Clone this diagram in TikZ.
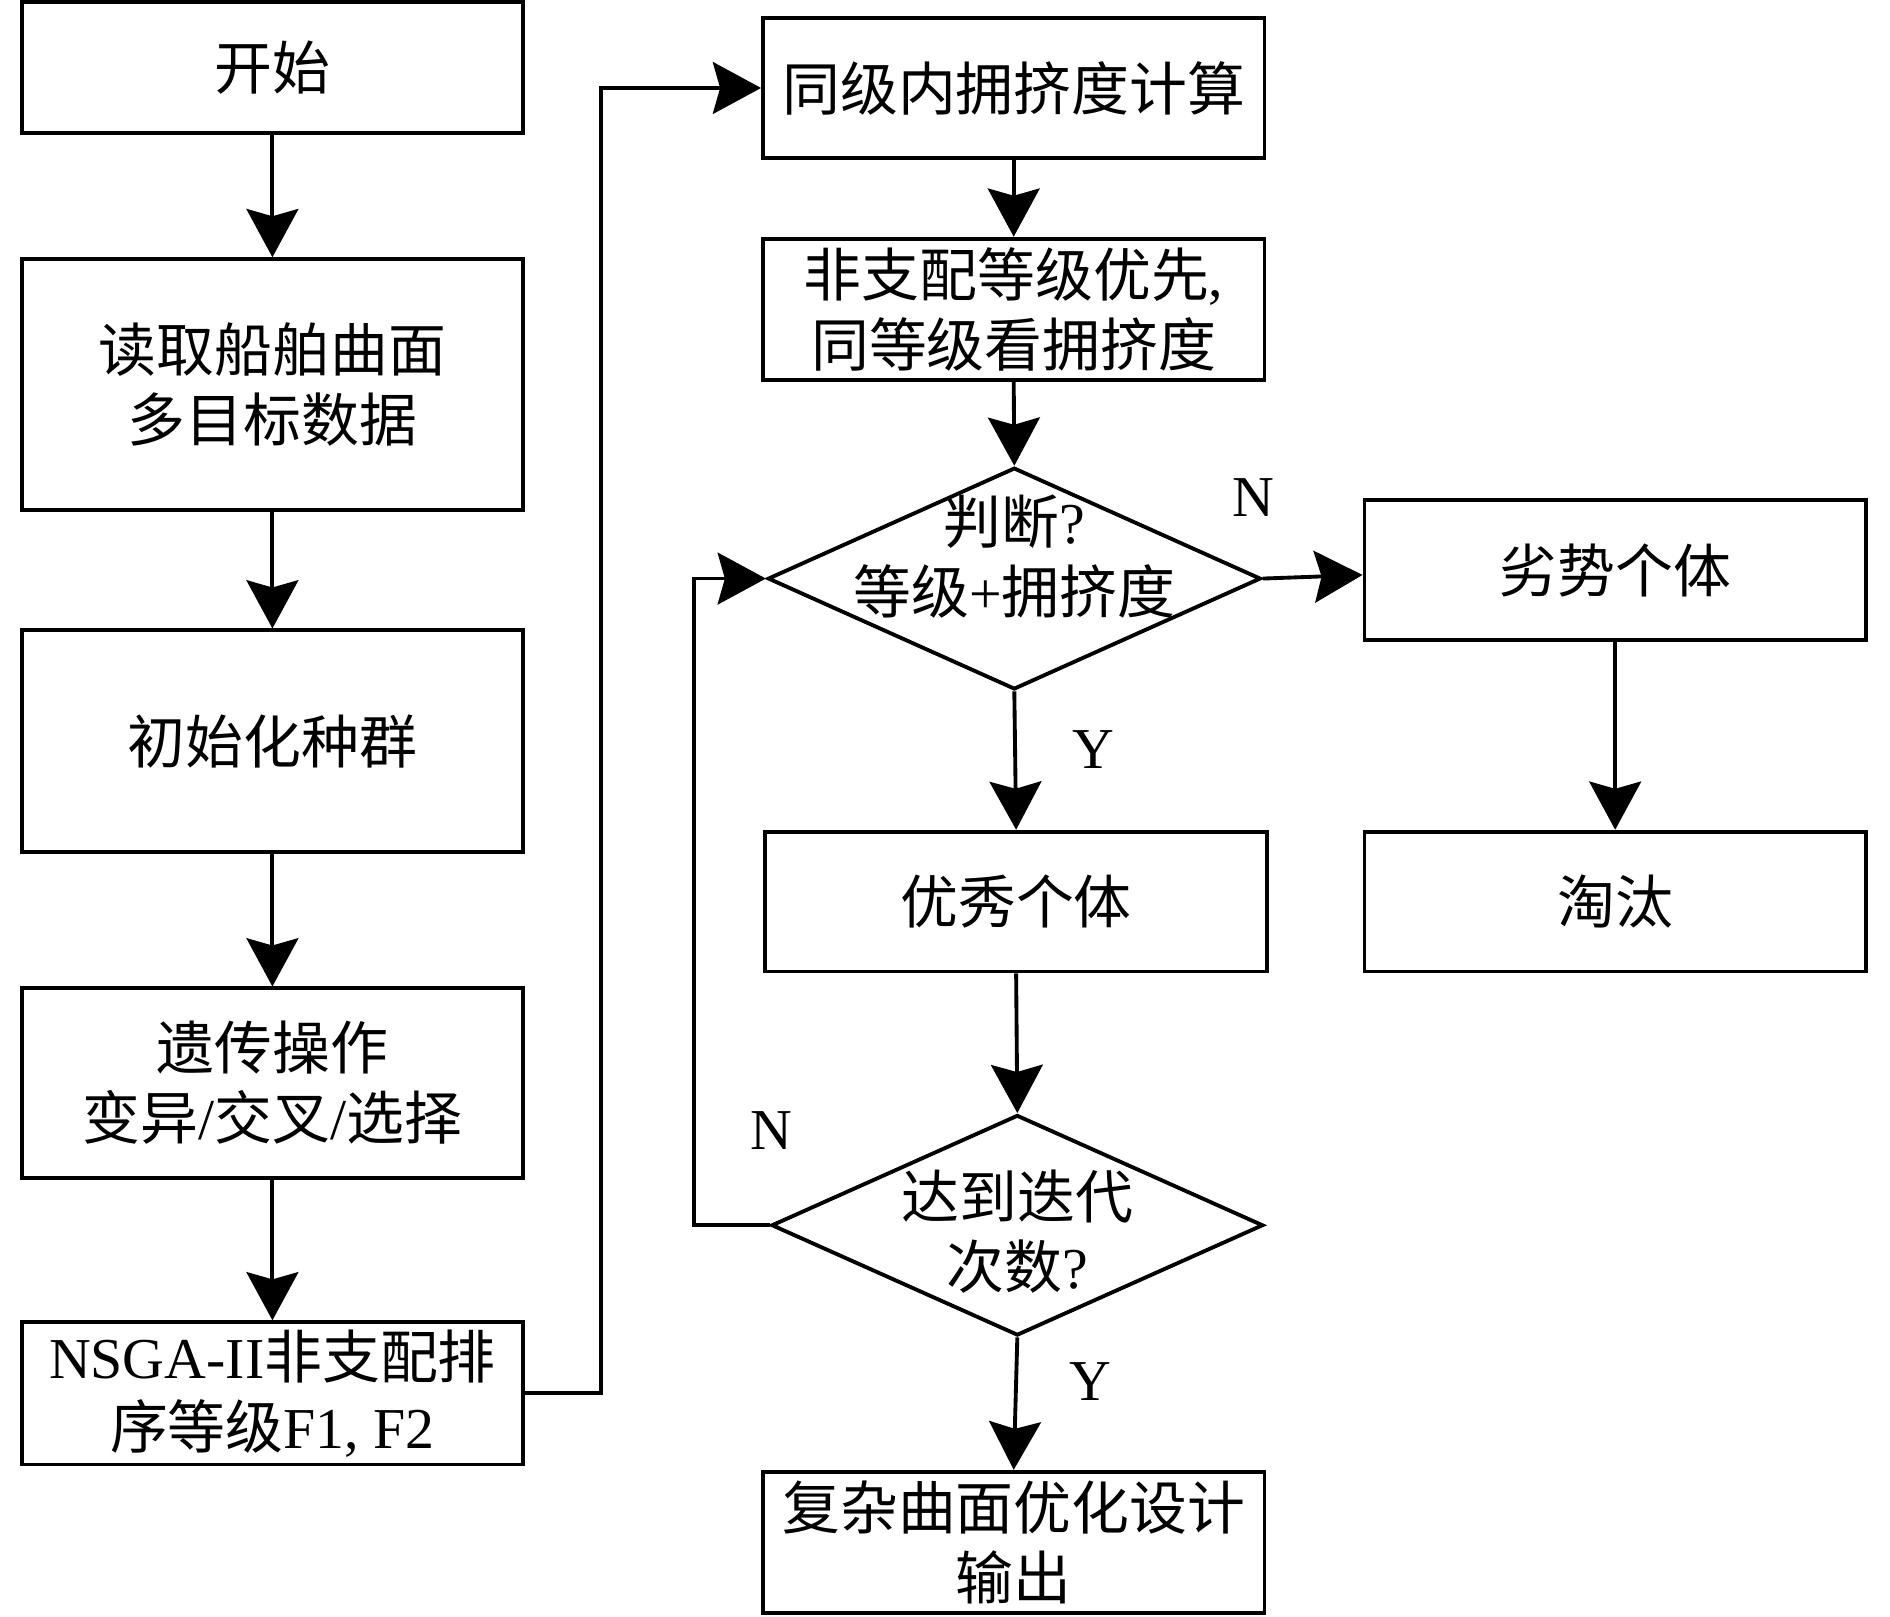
\documentclass[tikz,border=0pt]{standalone}
\usepackage{fontspec}
\setmainfont{Liberation Serif}
\newfontfamily\cjk{Noto Sans CJK SC}
\newcommand{\zhtext}[1]{{\cjk #1}}
\usetikzlibrary{arrows.meta,shapes.geometric}
\begin{document}
\begin{tikzpicture}[x=0.5pt,y=-0.5pt,
  every node/.style={font=\fontsize{24}{29}\selectfont},
  box/.style={draw, line width=1.6pt, minimum width=208pt, align=center, inner sep=0pt},
  dia/.style={draw, diamond, line width=1.6pt, inner sep=0pt},
  txt/.style={align=center, inner sep=0pt},
  lbl/.style={inner sep=0pt},
  conn/.style={line width=1.6pt, -{Stealth[length=20pt,width=21.5pt,inset=3pt]}},
  plainline/.style={line width=1.6pt}
]
\useasboundingbox (0,0) rectangle (1568,1341.5);
\fill[white] (0,0) rectangle (1568,1341.5);

% left column
\node[box, minimum height=54pt] (start) at (226,56) {\zhtext{开始}};
\node[box, minimum height=104pt] (read) at (226,319) {\zhtext{读取船舶曲面}\\\zhtext{多目标数据}};
\node[box, minimum height=92pt] (init) at (226,615) {\zhtext{初始化种群}};
\node[box, minimum height=78.5pt] (gen) at (226,898.5) {\zhtext{遗传操作}\\\zhtext{变异}/\zhtext{交叉}/\zhtext{选择}};
\node[box, minimum height=59pt] (nsga) at (226,1156) {NSGA-II\zhtext{非支配排}\\\zhtext{序等级}F1, F2};

% middle column
\node[box, minimum height=58pt] (crowd) at (841,73) {\zhtext{同级内拥挤度计算}};
\node[box, minimum height=58.5pt] (prio) at (841,256.5) {\zhtext{非支配等级优先},\\\zhtext{同等级看拥挤度}};
\node[dia, minimum width=204.5pt, minimum height=92pt] (d1) at (841.5,480) {};
\node[txt] (d1t) at (841.5,462) {\zhtext{判断}?\\\zhtext{等级}+\zhtext{拥挤度}};
\node[box, minimum height=58pt] (good) at (843,748) {\zhtext{优秀个体}};
\node[dia, minimum width=204pt, minimum height=91.5pt] (d2) at (844,1016.5) {};
\node[txt] (d2t) at (844,1022) {\zhtext{达到迭代}\\\zhtext{次数}?};
\node[box, minimum height=58.5pt] (out) at (841,1279.5) {\zhtext{复杂曲面优化设计}\\\zhtext{输出}};

% right column
\node[box, minimum height=58pt] (bad) at (1340,473) {\zhtext{劣势个体}};
\node[box, minimum height=58pt] (elim) at (1340,748) {\zhtext{淘汰}};

% labels
\node[lbl] (n1) at (1040,413) {N};
\node[lbl] (y1) at (907,622) {Y};
\node[lbl] (n2) at (640,938) {N};
\node[lbl] (y2) at (905,1146) {Y};

% connectors
\draw[conn] (start.south) -- (read.north);
\draw[conn] (read.south) -- (init.north);
\draw[conn] (init.south) -- (gen.north);
\draw[conn] (gen.south) -- (nsga.north);
\draw[conn] (nsga.east) -- ++(63,0) |- (crowd.west);
\draw[conn] (crowd.south) -- (prio.north);
\draw[conn] (prio.south) -- (d1.north);
\draw[conn] (d1.east) -- ([yshift=-2pt]bad.west);
\draw[conn] (d1.south) -- (good.north);
\draw[conn] (bad.south) -- (elim.north);
\draw[conn] (good.south) -- (d2.north);
\draw[conn] (d2.west) -- ++(-63,0) |- (d1.west);
\draw[conn] (d2.south) -- (out.north);
\end{tikzpicture}
\end{document}
